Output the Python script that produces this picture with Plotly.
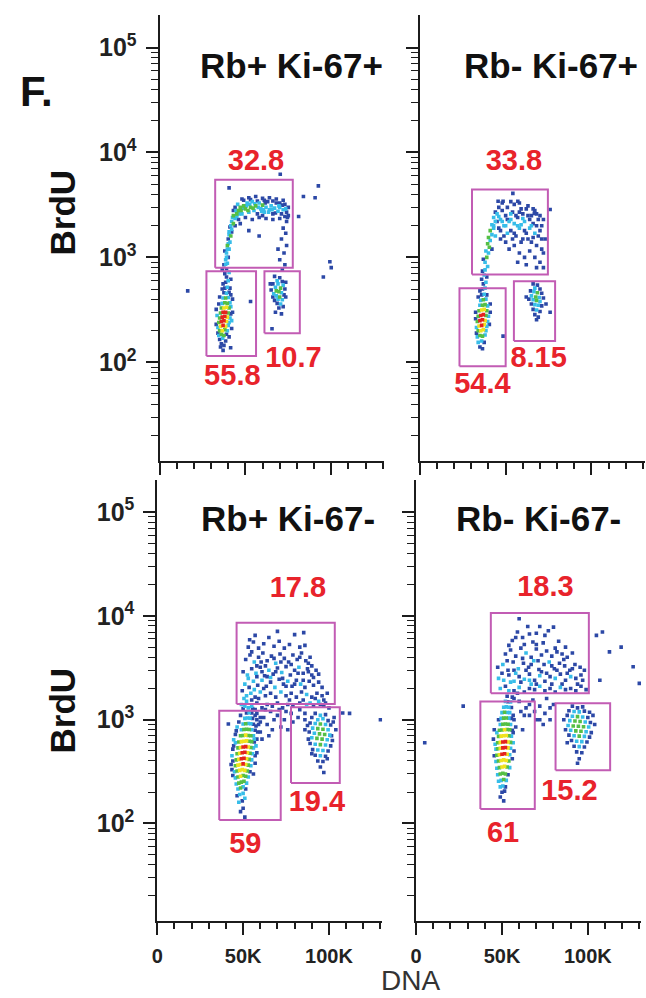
import plotly.graph_objects as go

# ---------------- data (DNA in thousands, BrdU intensity, density level 0-4) ----------------
TITLES = ["Rb+ Ki-67+", "Rb- Ki-67+", "Rb+ Ki-67-", "Rb- Ki-67-"]

# Top-left: Rb+ Ki-67+
TL_G1 = [(36,150,0),(37.5,145,0),(35,165,0),(36.8,170,1),(38.5,160,0),(34.5,180,1),(36,185,2),(37.5,180,2),
         (39,185,0),(35,200,2),(36.5,200,3),(38,205,2),(39.5,200,1),(34,215,1),(35.5,220,3),(37,225,4),
         (38.5,220,3),(40,225,1),(34.5,240,2),(36,245,4),(37.5,250,4),(39,245,3),(40.5,240,1),(35,265,2),
         (36.5,270,4),(38,275,4),(39.5,270,3),(41,265,1),(35.5,295,2),(37,300,4),(38.5,300,4),(40,295,2),
         (41.5,290,0),(36,330,2),(37.5,330,3),(39,335,3),(40.5,330,2),(36.5,365,1),(38,370,2),(39.5,365,2),
         (41,370,1),(37,410,1),(38.5,410,2),(40,415,1),(37.5,460,0),(39,455,1),(40.5,465,0),(38,510,0),
         (39.5,520,1),(36.5,500,0),(41,510,0),(38.5,580,0),(40,600,1),(39,650,0),(38,700,0),(40.5,720,1),
         (39,780,0),(37.5,850,0),(39.5,880,1),(38.5,950,1),(40,1000,0),(53,380,0),(41.4,138,0),
         (33,230,0),(33.5,280,1),(33,320,0),(34.5,360,0),(42.5,300,0),(42,250,1),(41.5,340,1),(42.5,400,0),
         (35,420,0),(41.5,440,0),(34,190,0),(40.5,175,0),(35.5,140,0),(37,130,0),(42,210,0),(37,560,0),
         (41.5,620,0),(36.5,760,0)]
TL_S = [(39,1100,1),(38,1150,0),(40.5,1200,1),(39.5,1300,2),(41,1400,1),(40,1500,0),(41.5,1600,2),(40.5,1750,1),
        (42,1850,1),(41,1950,0),(43,2100,2),(42,2200,1),(44,2350,1),(43,2500,2),(45,2600,2),(46,2800,2),
        (47,3000,2),(45.5,3200,1),(48,2600,1),(49,3100,2),(50,2900,2),(51,3300,1),(52,2700,1),(53,3000,2),
        (54,3400,1),(55,2800,1),(56,3100,2),(57,2600,0),(58,3300,1),(59,2900,1),(60,3150,2),(61,2700,1),
        (62,3000,1),(63,3400,0),(64,2850,1),(65,3100,1),(66,2600,0),(67,2950,1),(68,3300,0),(69,2750,1),
        (70,3000,1),(71,2600,0),(72,2850,1),(73,3200,0),(74,2700,0),(75,2500,0),(48,3600,0),(52,3700,0),
        (56,3800,0),(60,3650,0),(64,3700,0),(68,3600,0),(72,3500,0),(50,2400,0),(54,2300,0),(58,2400,0),
        (62,2350,0),(66,2300,0),(70,2350,0),(74,2200,0),(46,2300,0),(44,3000,0),(43,2800,0),(52,1800,0),
        (58,1600,0),(72,1900,0),(73.5,1700,0),(71,1500,0),(74,1300,0),(72.5,1100,0),(70,950,0),(73,850,0),
        (71.5,760,0),(69,1200,0),(40.5,4600,0),(70.3,6200,0),
        (45,2450,1),(46.5,2600,1),(47.5,2800,2),(48.5,2950,1),(50.5,3100,1),(51.5,2800,2),(52.5,3200,1),
        (54.5,2950,2),(55.5,3250,1),(57.5,3000,1),(59.5,2750,1),(60.5,2850,1),(61.5,3300,0),(63.5,2700,1),
        (65.5,2850,1),(67.5,2650,0),(69.5,3100,1),(71.5,3150,0),(73.5,2900,1),(74.5,2400,0),(44.5,2800,1),
        (42.5,2400,1),(41.5,2000,1),(40.5,1650,1),(39.5,1200,1),(40,1350,1),(39,1000,1),(38.5,860,1),
        (42,1750,0),(44,2000,0),(49,3500,0),(53,3550,0),(57,3450,0),(61,3500,0),(66,3450,0),(70,3300,0),
        (75,3000,0),(73,2450,0),(47,2100,0),(60,2500,0)]
TL_G2 = [(67,660,0),(70,640,0),(68.5,600,1),(71.5,590,0),(66,560,0),(69,560,1),(72,545,1),(67.5,520,1),
         (70.5,510,2),(73,500,0),(65,490,0),(68,480,2),(69.5,470,2),(71,460,1),(66.5,450,1),(72.5,440,0),
         (68,430,1),(70,420,2),(69,400,1),(67,390,0),(71.5,395,1),(68.5,365,0),(70.5,360,1),(72,340,0),
         (66,420,0),(69.5,330,0),(67.5,300,0),(71,290,0),(65.5,209,0),(64.5,560,0),(73.5,580,0),(73.5,420,0)]
TL_OUT = [(16.4,480,0),(81,2450,0),(92.5,4800,0),(83.8,3800,0),(90.6,3700,0),(99.2,910,0),(95.4,650,0),(100,800,0)]
TL_GATES = [(32.4,77.6,796,5510),(27.3,56.2,115,739),(61.1,81.7,189,739)]
TL_PCT = ["32.8","55.8","10.7"]
TL_PCT_X = [56.2,42.4,78.0]
TL_PCT_Y = [7950,71.6,107]

# Top-right: Rb- Ki-67+
TR_G1 = [(35,140,0),(36.5,135,0),(34,155,1),(36,160,1),(37.5,155,0),(33.5,175,1),(35,180,2),(36.5,178,2),
         (38,182,1),(34,200,2),(35.5,200,3),(37,205,3),(38.5,200,1),(33,215,1),(34.5,222,3),(36,225,4),
         (37.5,228,3),(39,220,1),(33.5,245,2),(35,250,4),(36.5,255,4),(38,250,3),(39.5,245,1),(34,275,2),
         (35.5,280,4),(37,285,4),(38.5,280,2),(40,275,1),(34.5,310,2),(36,315,3),(37.5,320,3),(39,310,2),
         (35,350,1),(36.5,350,2),(38,355,2),(39.5,345,1),(35.5,390,1),(37,395,2),(38.5,400,1),(36,440,0),
         (37.5,445,1),(39,440,0),(36.5,500,0),(38,510,1),(35,480,0),(37,560,0),(38.5,580,1),(36,620,0),
         (37.5,680,1),(39,650,0),(38,760,1),(36.5,740,0),(39.5,820,1),(38,900,1),(37,960,0),(48.5,178,0),
         (32.5,260,0),(32.5,300,0),(41,300,0),(40.5,230,0),(33,190,0),(41,360,0),(34,420,0)]
TR_S = [(39,1000,2),(40,1100,1),(38.5,1150,1),(40.5,1250,2),(39.5,1350,2),(41,1450,1),(40,1550,2),(42,1650,1),
        (41,1800,2),(43,1900,1),(42,2050,1),(44,2200,1),(43,2400,1),(45,2600,1),(47,2300,1),(48,2800,0),
        (49,2000,1),(50,2500,0),(51,3000,0),(52,2200,1),(53,1800,0),(54,2700,0),(55,2100,1),(56,1600,0),
        (57,2400,0),(58,1900,1),(59,2900,0),(60,1500,0),(61,2200,1),(62,1700,0),(63,2500,0),(64,1900,1),
        (65,1400,0),(66,2100,0),(67,1700,1),(68,1300,0),(69,2300,0),(70,1800,0),(71,1500,0),(72,1100,0),
        (46,1900,0),(44,1600,1),(50,1400,0),(52,1200,0),(55,1300,0),(58,1100,0),(61,1000,0),(64,1150,0),
        (67,1000,0),(70,900,0),(57,900,0),(62,850,0),(48,3300,0),(53,3400,0),(58,3300,0),(63,3100,0),
        (67,2800,0),(46,3000,0),(51,1700,1),(59,2050,1),(66,1550,0),(43,2000,1),(54,1500,0),(60,2600,0),
        (68,2600,0),(71,2000,0),(47,1500,0),(65,2500,0),(48.5,3430,0),(54.2,4080,0),(57.1,3430,0),
        (45.6,3430,0),(66.7,2630,0),(72,800,0),(68,800,0),
        (42,1200,0),(44,2700,0),(46,2450,1),(47,1800,0),(49,1600,0),(50,2000,1),(51,2300,0),(53,2600,1),
        (55,3200,0),(56,2500,0),(57,2000,1),(59,1400,0),(60,2350,1),(62,2900,0),(63,1500,0),(64,2300,0),
        (65,2000,1),(66,2900,0),(69,1600,0),(70,2500,0),(71,1200,0),(73,1500,0),(55,1700,0),(61,1800,0),
        (68,2000,0),(72,2300,0),(48,2200,1),(53,2300,1),(45,2200,0),(58,2700,0)]
TR_G2 = [(66,560,0),(68.5,545,0),(67,510,1),(70,500,0),(64.5,480,0),(66.5,470,1),(68.5,460,2),(71,455,0),
         (65,430,1),(67.5,420,2),(69.5,415,1),(72,410,0),(63.5,400,0),(66,395,1),(68,390,2),(70,380,1),
         (65,360,0),(67,355,1),(69,350,1),(71,345,0),(66,320,0),(68,315,1),(70,305,0),(67,285,0),
         (69,270,0),(62,420,0),(73.5,360,0),(68,255,0)]
TR_OUT = [(75.9,2860,0),(75.9,300,0)]
TR_GATES = [(30.4,74.6,687,4430),(23.1,50.0,92,509),(54.8,78.8,160,594)]
TR_PCT = ["33.8","54.4","8.15"]
TR_PCT_X = [54.8,36.5,69.2]
TR_PCT_Y = [7950,59.6,107]

# Bottom-left: Rb+ Ki-67-
BL_G1 = [(51,115,0),(48.5,130,0),(50,140,0),(47.5,160,1),(49.5,165,0),(51,175,1),(46.5,185,0),(48,190,1),
         (50,195,1),(47,215,1),(48.5,220,2),(50,225,1),(51.5,215,0),(46,240,1),(47.5,245,2),(49,250,2),
         (50.5,255,2),(52,245,1),(45.5,275,1),(47,280,2),(48.5,285,3),(50,290,2),(51.5,285,2),(53,280,1),
         (45,315,1),(46.5,320,2),(48,325,3),(49.5,330,3),(51,325,3),(52.5,320,2),(54,315,0),(45.5,360,2),
         (47,365,3),(48.5,370,3),(50,375,4),(51.5,370,3),(53,365,2),(54.5,360,1),(46,410,2),(47.5,415,3),
         (49,420,4),(50.5,425,4),(52,420,3),(53.5,415,2),(55,410,1),(46.5,470,2),(48,475,3),(49.5,480,4),
         (51,485,4),(52.5,480,3),(54,475,2),(55.5,470,1),(47,535,2),(48.5,540,3),(50,545,4),(51.5,550,4),
         (53,545,3),(54.5,540,2),(56,535,1),(47.5,610,2),(49,615,3),(50.5,620,3),(52,625,3),(53.5,620,2),
         (55,615,2),(56.5,610,0),(48.5,700,2),(50,705,2),(51.5,710,3),(53,705,2),(54.5,700,2),(56,700,1),
         (49,800,1),(50.5,805,2),(52,810,2),(53.5,805,2),(55,800,1),(57,790,0),(50,910,1),(51.5,915,2),
         (53,920,1),(54.5,915,1),(56,905,0),(51,1030,1),(52.5,1040,1),(54,1035,1),(55.5,1030,0),(52,1160,0),
         (53.5,1170,1),(55,1160,0),(57,1100,0),(44,400,0),(43.5,330,0),(57,450,0),(58,650,0),(59,900,0),
         (60,1050,0),(44.5,560,0),(41.4,910,0),
         (43.5,450,1),(44,520,0),(44.5,640,1),(45.5,720,0),(57.5,560,1),(58,480,0),(57,380,0),(56,300,0),
         (44,290,0),(43,370,0),(46.5,850,1),(47.5,950,0),(58,1000,0),(58.5,760,0),(48.5,1100,0),(57,1250,0),
         (50,1280,0),(53,1300,1),(55.5,1280,0),(51,1350,1),(45.5,600,1),(56.5,650,1),(46,780,0),(57.5,870,0)]
BL_S = [(55,1350,1),(58,1450,0),(61,1300,0),(64,1400,0),(67,1350,0),(70,1450,0),(73,1300,0),(76,1400,0),
        (79,1350,0),(83,1450,0),(87,1400,1),(91,1350,0),(95,1400,0),(98,1450,0),(52,1700,1),(54.5,1800,1),
        (57,1650,0),(60,1850,1),(63,1700,0),(66,1800,0),(69,1650,0),(72,1850,1),(75,1700,0),(78,1800,0),
        (81,1650,0),(84,1850,0),(87,1750,1),(90,1650,0),(93,1800,0),(96,1700,0),(51,2200,1),(53.5,2050,0),
        (56,2350,1),(58.5,2150,0),(61,2400,1),(63.5,2100,0),(66,2300,0),(68.5,2050,1),(71,2450,0),(73.5,2200,0),
        (76,2350,1),(78.5,2100,0),(81,2400,0),(83.5,2200,1),(86,2050,0),(88.5,2350,0),(91,2150,0),(94,2300,0),
        (50,2900,0),(52.5,2700,1),(55,3100,0),(57.5,2800,1),(60,3200,0),(62.5,2650,0),(65,3000,1),(67.5,2750,0),
        (70,3150,0),(72.5,2850,1),(75,3250,0),(77.5,2700,0),(80,3000,0),(82.5,3200,1),(85,2800,0),(87.5,3100,0),
        (90,2700,0),(92.5,3000,0),(51.5,3800,0),(54,4200,0),(56.5,3600,1),(59,4000,0),(61.5,4400,0),(64,3700,0),
        (66.5,4100,0),(69,3500,1),(71.5,4300,0),(74,3900,0),(76.5,3600,0),(79,4200,0),(81.5,3800,0),(84,4400,0),
        (86.5,3700,0),(89,4000,0),(53,5000,0),(56,5600,0),(59,4900,0),(62,5400,0),(65,6200,0),(68,5100,0),
        (71,5700,0),(74,4900,0),(77,5300,0),(80,6600,0),(83,5000,0),(86,5200,0),(57,6500,0),(70,7100,0),
        (85.3,6900,0),(53.8,5900,0),(58,1150,0),(62,1050,0),(66,1200,0),(70,1100,0),(74,1000,0),(78,1150,0),
        (82,1050,0),(64,900,0),(72,850,0),(60,760,0),(68,1000,0),
        (49,1400,1),(50.5,1600,1),(49.5,1900,0),(52,1500,1),(53,2500,1),(55,1550,0),(56.5,1950,1),(59,1600,0),
        (62,2000,0),(64,2600,0),(58,2600,0),(60.5,3600,0),(63,3300,0),(66,2550,1),(69,2900,0),(72,3600,0),
        (75,2100,0),(77,1550,0),(80,2200,0),(82,2800,0),(85,2400,0),(88,2900,0),(91,2550,0),(94,2750,0),
        (96,2050,0),(97,1550,0),(99,1800,0),(85,1550,0),(89,1450,1),(92,1600,0),(94,1500,1),(97,1350,0),
        (100,1300,0),(55,4500,0),(58,3300,0),(61,2900,0),(68,3900,0),(73,2500,0),(78,3400,0),(83,4000,0),
        (88,3500,0),(90,3300,0),(60,950,0),(63,1250,0),(67,800,0),(71,1250,0),(75,1200,0),(79,950,0),
        (83,1250,0),(86,1150,0),(61,650,0),(65,700,0),(76,800,0)]
BL_G2 = [(92,1150,0),(95,1100,1),(98,1120,0),(90,1050,0),(93.5,1000,1),(96.5,1020,1),(99.5,980,0),(89,930,0),
         (92,920,1),(95,910,2),(98,900,1),(101,890,0),(90.5,830,1),(93.5,820,2),(96.5,810,2),(99.5,800,1),
         (88.5,760,0),(91.5,740,1),(94.5,730,2),(97.5,720,2),(100.5,710,1),(90,670,1),(93,660,2),(96,650,2),
         (99,640,1),(102,630,0),(89,590,0),(92,580,1),(95,575,2),(98,570,1),(101,560,0),(90.5,515,0),
         (93.5,510,1),(96.5,505,1),(99.5,500,0),(92,455,0),(95,450,1),(98,445,0),(93.5,400,0),(96.5,395,0),
         (95,350,0),(97,310,0),(86,800,0),(86,1000,0),(104,800,0),(103,1050,0),(87.5,880,0),(102.5,950,0),
         (88,650,0),(101.5,700,0),(90,470,0),(99,420,0)]
BL_OUT = [(130,1000,0),(112,1150,0),(108,1160,0)]
BL_GATES = [(46.2,103.4,1413,8590),(36.1,71.9,108,1217),(77.9,106.3,246,1321)]
BL_PCT = ["17.8","59","19.4"]
BL_PCT_X = [81.9,51.3,93.0]
BL_PCT_Y = [17700,60.5,155]

# Bottom-right: Rb- Ki-67-
BR_G1 = [(50,200,0),(51.5,205,0),(49,225,1),(50.5,230,1),(52,225,0),(48,255,1),(49.5,260,1),(51,265,2),
         (52.5,260,1),(47.5,295,1),(49,300,2),(50.5,305,2),(52,300,2),(53.5,295,0),(47,340,1),(48.5,345,2),
         (50,350,3),(51.5,355,3),(53,350,2),(54.5,345,1),(46.5,395,1),(48,400,2),(49.5,405,3),(51,410,3),
         (52.5,405,3),(54,400,2),(47,455,2),(48.5,460,3),(50,465,4),(51.5,470,4),(53,465,3),(54.5,460,1),
         (47.5,525,2),(49,530,3),(50.5,535,4),(52,540,4),(53.5,535,3),(55,530,1),(46.5,520,1),(47.5,600,2),
         (49,605,3),(50.5,610,4),(52,615,4),(53.5,610,3),(55,605,2),(48,690,2),(49.5,695,3),(51,700,3),
         (52.5,705,3),(54,700,2),(55.5,695,1),(48.5,790,2),(50,795,2),(51.5,800,3),(53,805,2),(54.5,800,2),
         (56,790,0),(49,900,1),(50.5,905,2),(52,910,2),(53.5,905,2),(55,900,1),(49.5,1030,1),(51,1035,2),
         (52.5,1040,2),(54,1035,1),(55.5,1030,0),(50,1170,1),(51.5,1180,2),(53,1175,1),(54.5,1170,1),
         (51,1320,1),(52.5,1330,1),(54,1320,1),(55.5,1310,0),(52,1500,1),(53.5,1490,0),(55,1480,1),(53,1680,0),
         (56,1650,0),(45,650,0),(45.5,800,0),(57,500,0),(58,850,0),(56.5,1100,0),(49,180,0),(51,165,0),
         (45.5,450,0),(56,420,0),(46,580,1),(56.5,600,1),(47,750,1),(56.5,750,0),(48,1000,0),(57,1000,0)]
BR_S = [(57,1900,0),(60,2050,1),(63,1850,0),(66,2000,0),(69,1950,0),(72,2100,1),(75,1900,0),(78,2000,0),
        (81,1850,0),(84,2050,1),(87,1950,0),(90,2000,0),(93,1900,0),(96,2100,0),(99,1950,0),(48,2500,1),
        (51,2400,1),(54,2700,0),(57,2350,1),(60,2600,0),(63,2450,1),(66,2750,0),(69,2400,0),(72,2650,1),
        (75,2350,0),(78,2600,0),(81,2500,1),(84,2750,0),(87,2400,0),(90,2600,1),(93,2500,0),(96,2700,0),
        (47.5,3200,0),(50.5,3400,1),(53.5,3000,0),(56.5,3600,0),(59.5,3100,1),(62.5,3500,0),(65.5,3200,0),
        (68.5,3700,1),(71.5,3050,0),(74.5,3400,0),(77.5,3600,1),(80.5,3100,0),(83.5,3500,0),(86.5,3300,0),
        (89.5,3000,0),(92.5,3400,0),(95.5,3200,0),(52,4300,0),(55,4700,0),(58,4100,0),(61,4900,0),(64,4400,1),
        (67,4000,0),(70,4800,0),(73,4200,0),(76,4600,0),(79,4100,0),(82,4500,0),(85,4300,0),(88,4000,0),
        (91,4400,0),(56,5800,0),(60,9400,0),(62,6200,0),(65,7900,0),(68,5600,0),(72,7900,0),(75,6500,0),
        (80,7800,0),(83,5700,0),(59,7000,0),(70,6800,0),(60,1500,0),(64,1300,0),(68,1550,0),(72,1350,0),
        (76,1600,0),(80,1400,0),(66,1100,0),(72,1000,0),(61,1200,0),(74,900,0),(62,800,0),
        (49,2000,1),(50,2800,0),(52,2100,0),(53,3700,0),(55,2300,1),(57,3000,0),(58,2800,1),(61,2300,0),
        (62,3900,0),(64,3000,0),(66,2400,1),(67,3400,0),(70,2200,0),(71,3700,0),(73,2900,0),(76,2800,0),
        (79,3300,0),(79,2200,0),(82,3000,0),(85,2200,0),(86,3800,0),(88,2800,0),(91,3100,0),(94,2200,0),
        (97,2400,0),(98,3000,0),(54,5200,0),(58,6200,0),(63,5300,0),(66,6700,0),(70,5300,0),(74,5500,0),
        (77,7200,0),(81,4900,0),(87,5000,0),(67,2200,1),(59,1800,0),(54,1900,1),(57,1600,0),(63,1100,0),
        (69,1200,0),(75,1150,0),(78,1300,0),(66,1400,0),(70,1000,0),(78,1000,0)]
BR_G2 = [(91,1350,0),(94,1300,0),(97,1330,0),(89,1220,0),(92,1200,1),(95,1190,1),(98,1210,0),(101,1180,0),
         (88,1100,0),(91,1080,1),(94,1070,2),(97,1060,1),(100,1050,0),(89.5,980,1),(92.5,970,2),(95.5,960,2),
         (98.5,950,1),(101.5,940,0),(88.5,880,1),(91.5,870,2),(94.5,865,2),(97.5,855,2),(100.5,850,1),(90,790,1),
         (93,780,2),(96,775,2),(99,765,1),(89,710,0),(92,700,1),(95,695,2),(98,690,1),(101,680,0),(90.5,630,0),
         (93.5,620,1),(96.5,615,1),(99.5,610,0),(92,555,0),(95,550,1),(98,545,0),(93.5,490,0),(96.5,480,0),
         (95,420,0),(94,380,0),(86,1000,0),(104,900,0),(87,800,0),(103,1100,0),(102,750,0),(88,600,0)]
BR_OUT = [(105,6500,0),(108.5,7000,0),(112.6,4500,0),(107,2400,0),(119.4,5000,0),(126.4,3240,0),(130,2240,0),
          (27.4,1350,0),(5,600,0)]
BR_GATES = [(43.5,100.6,1800,10700),(37.4,69.1,138,1497),(81.2,113.0,325,1442)]
BR_PCT = ["18.3","61","15.2"]
BR_PCT_X = [75.3,50.6,89.3]
BR_PCT_Y = [18370,78,197]

X_TICKVALS = [0, 50, 100]
X_TICKTEXT = ["0", "50K", "100K"]
Y_TICKVALS = [100, 1000, 10000, 100000]
Y_TICKTEXT = ["10<sup>2</sup>", "10<sup>3</sup>", "10<sup>4</sup>", "10<sup>5</sup>"]

# ---------------- figure ----------------
W, H = 646, 998
FONT = "Liberation Sans, Arial, sans-serif"
GATE_COLOR = "#C25CB4"
PCT_COLOR = "#E8232B"
AXIS_COLOR = "#1c1c1c"
COLORSCALE = [[0.0, "#2C48A6"], [0.25, "#37BDE9"], [0.5, "#55BF45"], [0.75, "#F0E21E"], [1.0, "#E4231F"]]

panels = [
    dict(pts=TL_G1 + TL_S + TL_G2 + TL_OUT, gates=TL_GATES, pct=TL_PCT, px=TL_PCT_X, py=TL_PCT_Y,
         xdom=(155, 382), ydom=(15, 461), xlabels=False, ylabels=True, title_xy=(288, 66)),
    dict(pts=TR_G1 + TR_S + TR_G2 + TR_OUT, gates=TR_GATES, pct=TR_PCT, px=TR_PCT_X, py=TR_PCT_Y,
         xdom=(417.7, 644.7), ydom=(15, 461), xlabels=False, ylabels=False, title_xy=(550, 66)),
    dict(pts=BL_G1 + BL_S + BL_G2 + BL_OUT, gates=BL_GATES, pct=BL_PCT, px=BL_PCT_X, py=BL_PCT_Y,
         xdom=(152.7, 379.7), ydom=(480, 921), xlabels=True, ylabels=True, title_xy=(285, 518)),
    dict(pts=BR_G1 + BR_S + BR_G2 + BR_OUT, gates=BR_GATES, pct=BR_PCT, px=BR_PCT_X, py=BR_PCT_Y,
         xdom=(414, 641), ydom=(480, 921), xlabels=True, ylabels=False, title_xy=(537, 518)),
]

fig = go.Figure()
minor_y = [k * 10 ** n for n in range(1, 5) for k in range(2, 10)]
annotations = []

for i, p in enumerate(panels):
    sfx = "" if i == 0 else str(i + 1)
    xa, ya = "x" + sfx, "y" + sfx
    pts = sorted(p["pts"], key=lambda t: t[2])
    fig.add_trace(go.Scatter(
        x=[t[0] for t in pts], y=[t[1] for t in pts], mode="markers", xaxis=xa, yaxis=ya,
        marker=dict(symbol="square", size=3.6, color=[t[2] for t in pts], cmin=0, cmax=4,
                    colorscale=COLORSCALE, line=dict(width=0)),
        hoverinfo="skip", showlegend=False))
    for (x0, x1, y0, y1) in p["gates"]:
        fig.add_trace(go.Scatter(
            x=[x0, x1, x1, x0, x0], y=[y0, y0, y1, y1, y0], mode="lines", xaxis=xa, yaxis=ya,
            line=dict(color=GATE_COLOR, width=2), hoverinfo="skip", showlegend=False))
    fig.add_trace(go.Scatter(
        x=p["px"], y=p["py"], text=p["pct"], mode="text", xaxis=xa, yaxis=ya,
        textfont=dict(family=FONT, size=29, color=PCT_COLOR, weight="bold"),
        textposition="middle center", hoverinfo="skip", showlegend=False))

    xd = p["xdom"]; yd = p["ydom"]
    fig.update_layout(**{
        "xaxis" + sfx: dict(
            domain=[xd[0] / W, xd[1] / W], anchor=ya, range=[0, 131], showgrid=False, zeroline=False,
            showline=True, linecolor=AXIS_COLOR, linewidth=2,
            tickmode="array", tickvals=X_TICKVALS, ticktext=X_TICKTEXT, ticks="outside", ticklen=12,
            tickwidth=2, tickcolor=AXIS_COLOR, showticklabels=p["xlabels"], ticklabelstandoff=4,
            tickfont=dict(family=FONT, size=20, color="#222222", weight="bold"),
            minor=dict(ticks="outside", ticklen=6, tickwidth=1.5, tickcolor=AXIS_COLOR, dtick=10, tick0=0,
                       showgrid=False)),
        "yaxis" + sfx: dict(
            domain=[1 - yd[1] / H, 1 - yd[0] / H], anchor=xa, type="log", range=[1.06, 5.31],
            showgrid=False, zeroline=False, showline=True, linecolor=AXIS_COLOR, linewidth=2,
            tickmode="array", tickvals=Y_TICKVALS, ticktext=Y_TICKTEXT, ticks="outside", ticklen=12,
            tickwidth=2, tickcolor=AXIS_COLOR, showticklabels=p["ylabels"], ticklabelstandoff=4,
            tickfont=dict(family=FONT, size=25, color="#222222", weight="bold"),
            minor=dict(ticks="outside", ticklen=7, tickwidth=1.2, tickcolor=AXIS_COLOR, tickmode="array",
                       tickvals=minor_y, showgrid=False)),
    })
    tx, ty = p["title_xy"]
    annotations.append(dict(text=TITLES[i], x=tx / W, y=1 - ty / H, xref="paper", yref="paper",
                            showarrow=False, xanchor="center", yanchor="middle",
                            font=dict(family=FONT, size=35, color="#111111", weight="bold")))

annotations += [
    dict(text="F.", x=12 / W, y=1 - 91 / H, xref="paper", yref="paper", showarrow=False,
         xanchor="left", yanchor="middle", font=dict(family=FONT, size=42, color="#111111", weight="bold")),
    dict(text="BrdU", x=57 / W, y=1 - 212 / H, xref="paper", yref="paper", showarrow=False, textangle=-90,
         xanchor="center", yanchor="middle", font=dict(family=FONT, size=35, color="#111111", weight="bold")),
    dict(text="BrdU", x=57 / W, y=1 - 710 / H, xref="paper", yref="paper", showarrow=False, textangle=-90,
         xanchor="center", yanchor="middle", font=dict(family=FONT, size=35, color="#111111", weight="bold")),
    dict(text="DNA", x=408 / W, y=1 - 980 / H, xref="paper", yref="paper", showarrow=False,
         xanchor="center", yanchor="middle", font=dict(family=FONT, size=28, color="#333333")),
]

fig.update_layout(width=W, height=H, margin=dict(l=0, r=0, t=0, b=0), paper_bgcolor="white",
                  plot_bgcolor="white", showlegend=False, annotations=annotations)

fig.write_html("out.html", config={"displayModeBar": False},
               post_script="document.body.style.margin='0';document.body.style.padding='0';"
                           "document.body.style.overflow='hidden';")
